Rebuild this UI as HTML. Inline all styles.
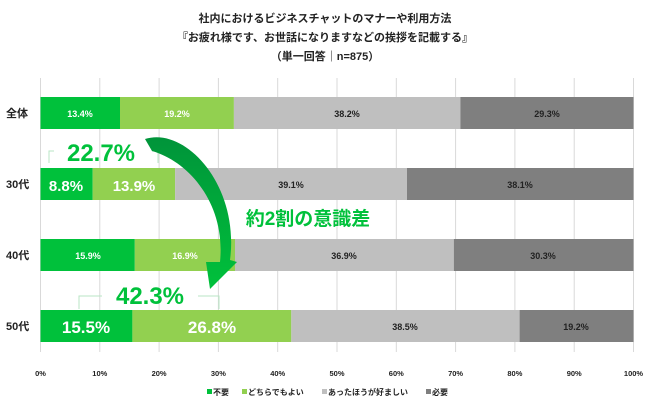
<!DOCTYPE html><html><head><meta charset="utf-8"><style>
body{margin:0;background:#fff;font-family:"Liberation Sans","Noto Sans CJK JP",sans-serif;}
</style></head><body>
<svg width="650" height="406" xmlns="http://www.w3.org/2000/svg" font-family="Liberation Sans, Noto Sans CJK JP, sans-serif" font-weight="bold">
<defs><linearGradient id="ag" x1="0" y1="0" x2="0" y2="1"><stop offset="0" stop-color="#00943a"/><stop offset="1" stop-color="#00c13b"/></linearGradient></defs>
<g font-size="11" text-anchor="middle" fill="#222">
<text x="325" y="22">社内におけるビジネスチャットのマナーや利用方法</text>
<text x="325" y="41">『お疲れ様です、お世話になりますなどの挨拶を記載する』</text>
<text x="325" y="60">（単一回答｜n=875）</text>
</g>
<g stroke="#d9d9d9" stroke-width="1">
<line x1="40.5" y1="78" x2="40.5" y2="352"/><line x1="99.8" y1="78" x2="99.8" y2="352"/><line x1="159.1" y1="78" x2="159.1" y2="352"/><line x1="218.4" y1="78" x2="218.4" y2="352"/><line x1="277.7" y1="78" x2="277.7" y2="352"/><line x1="337" y1="78" x2="337" y2="352"/><line x1="396.3" y1="78" x2="396.3" y2="352"/><line x1="455.6" y1="78" x2="455.6" y2="352"/><line x1="514.9" y1="78" x2="514.9" y2="352"/><line x1="574.2" y1="78" x2="574.2" y2="352"/><line x1="633.5" y1="78" x2="633.5" y2="352"/>
</g>
<g>
<rect x="40.5" y="97" width="79.5" height="32" fill="#00c13b"/><rect x="120" y="97" width="113.9" height="32" fill="#92d050"/><rect x="233.9" y="97" width="226.5" height="32" fill="#bfbfbf"/><rect x="460.4" y="97" width="173.1" height="32" fill="#7f7f7f"/>
<rect x="40.5" y="168" width="52.2" height="32" fill="#00c13b"/><rect x="92.7" y="168" width="82.4" height="32" fill="#92d050"/><rect x="175.1" y="168" width="231.9" height="32" fill="#bfbfbf"/><rect x="407" y="168" width="226.5" height="32" fill="#7f7f7f"/>
<rect x="40.5" y="239" width="94.3" height="32" fill="#00c13b"/><rect x="134.8" y="239" width="100.2" height="32" fill="#92d050"/><rect x="235" y="239" width="218.8" height="32" fill="#bfbfbf"/><rect x="453.8" y="239" width="179.7" height="32" fill="#7f7f7f"/>
<rect x="40.5" y="310" width="91.9" height="32" fill="#00c13b"/><rect x="132.4" y="310" width="158.9" height="32" fill="#92d050"/><rect x="291.3" y="310" width="228.3" height="32" fill="#bfbfbf"/><rect x="519.6" y="310" width="113.9" height="32" fill="#7f7f7f"/>
</g>
<g font-size="9" text-anchor="middle">
<text x="80" y="117" fill="#fff">13.4%</text><text x="177" y="117" fill="#fff">19.2%</text><text x="347" y="117" fill="#222">38.2%</text><text x="547" y="117" fill="#222">29.3%</text>
<text x="66" y="191" fill="#fff" font-size="15">8.8%</text><text x="134" y="191" fill="#fff" font-size="15">13.9%</text><text x="291" y="188" fill="#222">39.1%</text><text x="520" y="188" fill="#222">38.1%</text>
<text x="88" y="259" fill="#fff">15.9%</text><text x="185" y="259" fill="#fff">16.9%</text><text x="344" y="259" fill="#222">36.9%</text><text x="543" y="259" fill="#222">30.3%</text>
<text x="86" y="333" fill="#fff" font-size="17">15.5%</text><text x="212" y="333" fill="#fff" font-size="17">26.8%</text><text x="405" y="330" fill="#222">38.5%</text><text x="576" y="330" fill="#222">19.2%</text>
</g>
<g font-size="11" fill="#222">
<text x="6" y="117">全体</text><text x="6" y="188">30代</text><text x="6" y="259">40代</text><text x="6" y="330">50代</text>
</g>
<g font-size="7.5" text-anchor="middle" fill="#222">
<text x="40.5" y="376">0%</text><text x="99.8" y="376">10%</text><text x="159.1" y="376">20%</text><text x="218.4" y="376">30%</text><text x="277.7" y="376">40%</text><text x="337" y="376">50%</text><text x="396.3" y="376">60%</text><text x="455.6" y="376">70%</text><text x="514.9" y="376">80%</text><text x="574.2" y="376">90%</text><text x="633.5" y="376">100%</text>
</g>
<g font-size="8" fill="#222">
<rect x="207" y="389" width="5" height="5" fill="#00c13b"/><text x="213" y="395">不要</text>
<rect x="242" y="389" width="5" height="5" fill="#92d050"/><text x="248" y="395">どちらでもよい</text>
<rect x="322" y="389" width="5" height="5" fill="#bfbfbf"/><text x="328" y="395">あったほうが好ましい</text>
<rect x="426" y="389" width="5" height="5" fill="#7f7f7f"/><text x="432" y="395">必要</text>
</g>
<g stroke="#b8e6c4" fill="none" stroke-width="1">
<path d="M49 163 V151 H54"/><path d="M152 151 H158 V163"/>
<path d="M79 309 V296 H102"/><path d="M198 296 H219 V309"/>
</g>
<text x="101" y="161" font-size="24" fill="#00c13b" text-anchor="middle">22.7%</text>
<text x="150" y="304" font-size="24" fill="#00c13b" text-anchor="middle">42.3%</text>
<text x="308" y="225" font-size="19" fill="#00c13b" text-anchor="middle">約2割の意識差</text>
<path d="M145 139 C185 126 240 185 230 260 L237 262 L210 289 L206 262 L220 262 C226 205 190 162 152 151 Z" fill="url(#ag)"/>
</svg>
</body></html>
